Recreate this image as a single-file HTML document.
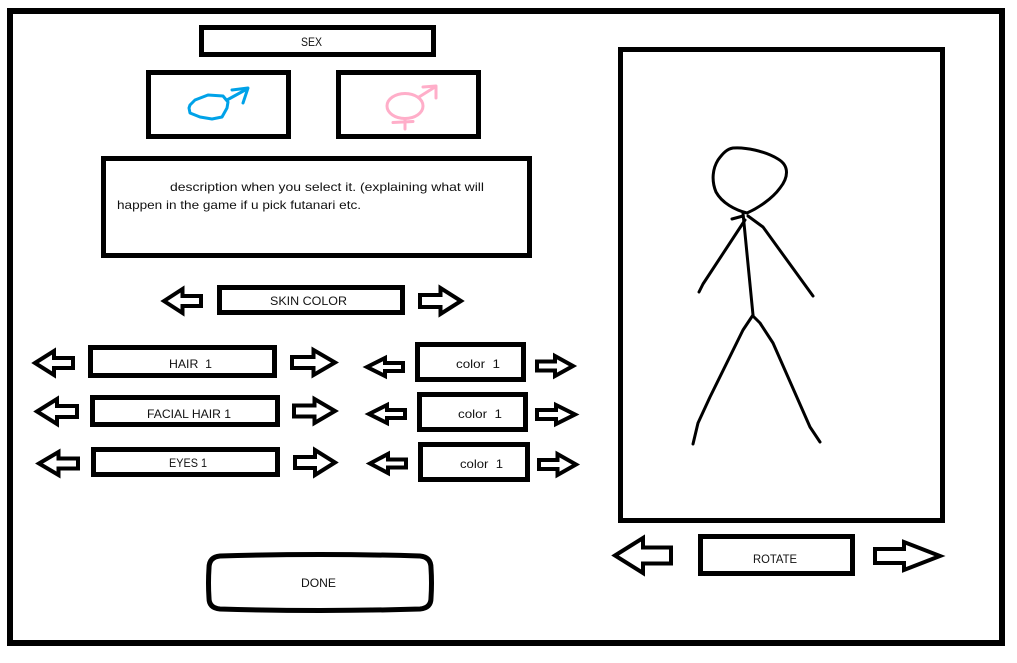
<!DOCTYPE html>
<html>
<head>
<meta charset="utf-8">
<style>
html,body{margin:0;padding:0;background:#fff;}
svg{display:block;}
text{font-family:"Liberation Sans",sans-serif;font-size:12px;fill:#111;}
</style>
</head>
<body>
<svg width="1017" height="663" viewBox="0 0 1017 663" xmlns="http://www.w3.org/2000/svg">
<rect x="0" y="0" width="1017" height="663" fill="#fff"/>
<!-- outer frame -->
<rect x="10" y="11" width="992" height="632" fill="none" stroke="#000" stroke-width="6"/>

<g fill="none" stroke="#000" stroke-width="5">
  <rect x="201.5" y="27.5" width="232" height="27"/>
  <rect x="148.5" y="72.5" width="140" height="64"/>
  <rect x="338.5" y="72.5" width="140" height="64"/>
  <rect x="103.5" y="158.5" width="426" height="97"/>
  <rect x="219.5" y="287.5" width="183" height="25"/>
  <rect x="90.5" y="347.5" width="184" height="28"/>
  <rect x="92.5" y="397.5" width="185" height="27"/>
  <rect x="93.5" y="449.5" width="184" height="25"/>
  <rect x="417.5" y="344.5" width="106" height="35"/>
  <rect x="419.5" y="394.5" width="106" height="35"/>
  <rect x="420.5" y="444.5" width="107" height="35"/>
  <rect x="620.5" y="49.5" width="322" height="471"/>
  <rect x="700.5" y="536.5" width="152" height="37"/>
  <path d="M220,556 Q320,553 420,556 Q431,557 431,568 Q432,583 431,598 Q431,608 420,609 Q320,612 220,609 Q209,608 209,598 Q208,583 209,568 Q209,557 220,556 Z"/>
</g>

<!-- arrows -->
<g fill="none" stroke="#000" stroke-width="4" stroke-linejoin="miter">
  <polygon points="164,301 182.5,289 182.5,296 201,296 201,306 182.5,306 182.5,313"/>
  <polygon points="420,295 440.5,295 440.5,288 461,301 440.5,314 440.5,307 420,307"/>

  <polygon points="35,363 54,351 54,358 73,358 73,368 54,368 54,375"/>
  <polygon points="292,357 313.5,357 313.5,350 335,362.5 313.5,375 313.5,368 292,368"/>
  <polygon points="367,367 385,358 385,363 403,363 403,371 385,371 385,376"/>
  <polygon points="537,361.5 555,361.5 555,356 573,366 555,376 555,370.5 537,370.5"/>

  <polygon points="37,411.5 57,399 57,406 77,406 77,417 57,417 57,424"/>
  <polygon points="294,405.5 314.5,405.5 314.5,399 335,411 314.5,423 314.5,416.5 294,416.5"/>
  <polygon points="369,414 387,405 387,410 405,410 405,418 387,418 387,423"/>
  <polygon points="537,410 556,410 556,405 575,414.5 556,424 556,419 537,419"/>

  <polygon points="39,463.5 58.5,452 58.5,458.5 78,458.5 78,468.5 58.5,468.5 58.5,475"/>
  <polygon points="295,457 315,457 315,450 335,462.5 315,475 315,468 295,468"/>
  <polygon points="370,463.5 388,454 388,459.5 406,459.5 406,467.5 388,467.5 388,473"/>
  <polygon points="539,460 557.5,460 557.5,454 576,464.5 557.5,475 557.5,469 539,469"/>

  <polygon points="615,555.5 643,538 643,547.5 671,547.5 671,563.5 643,563.5 643,573"/>
  <polygon points="875,549 904,549 904,542 940,556 904,570 904,563 875,563"/>
</g>

<!-- male symbol -->
<g fill="none" stroke="#00a2e8" stroke-width="3" stroke-linecap="round" stroke-linejoin="round">
  <path d="M190,105 L195,100 L208,95 L223,96 L228,102 L227,108 L222,117 L212,119 L200,117 L190,113 L189,108 Z"/>
  <path d="M227,100 L247,89"/>
  <path d="M232,90 L248,88 L243,103"/>
</g>
<!-- female/futa symbol -->
<g fill="none" stroke="#ffaec9" stroke-width="3" stroke-linecap="round" stroke-linejoin="round">
  <ellipse cx="405" cy="106" rx="18" ry="12.5"/>
  <path d="M419,97 L435,87"/>
  <path d="M423,87 L436,86 L436,98"/>
  <path d="M405,119 L405,129"/>
  <path d="M393,122.5 L413,121.5"/>
</g>

<!-- stick figure -->
<g fill="none" stroke="#000" stroke-width="3" stroke-linecap="round" stroke-linejoin="round">
  <path d="M733,148 C745,147 765,151 778,159 C790,166 788,178 780,188 C772,199 758,208 747,213 C735,210 722,203 716,192 C711,180 713,168 718,160 C723,153 727,149 733,148 Z"/>
  <path d="M743,213 L753,315"/>
  <path d="M732,219 L743,216"/>
  <path d="M745,220 L703,284 L699,292"/>
  <path d="M748,216 L763,227 L813,296"/>
  <path d="M753,315 L743,330 L710,397 L698,423 L693,444"/>
  <path d="M753,316 L760,323 L773,343 L810,427 L820,442"/>
</g>

<!-- labels -->
<text x="301" y="46" textLength="21" lengthAdjust="spacingAndGlyphs">SEX</text>
<text x="170" y="191" textLength="314" lengthAdjust="spacingAndGlyphs">description when you select it. (explaining what will</text>
<text x="117" y="209" textLength="244" lengthAdjust="spacingAndGlyphs">happen in the game if u pick futanari etc.</text>
<text x="270" y="305" textLength="77" lengthAdjust="spacingAndGlyphs">SKIN COLOR</text>
<text x="169" y="368" textLength="43" lengthAdjust="spacingAndGlyphs" xml:space="preserve">HAIR  1</text>
<text x="147" y="418" textLength="84" lengthAdjust="spacingAndGlyphs">FACIAL HAIR 1</text>
<text x="169" y="467" textLength="38" lengthAdjust="spacingAndGlyphs">EYES 1</text>
<text x="456" y="368" textLength="44" lengthAdjust="spacingAndGlyphs" xml:space="preserve">color  1</text>
<text x="458" y="418" textLength="44" lengthAdjust="spacingAndGlyphs" xml:space="preserve">color  1</text>
<text x="460" y="468" textLength="43" lengthAdjust="spacingAndGlyphs" xml:space="preserve">color  1</text>
<text x="301" y="587" textLength="35" lengthAdjust="spacingAndGlyphs">DONE</text>
<text x="753" y="563" textLength="44" lengthAdjust="spacingAndGlyphs">ROTATE</text>
</svg>
</body>
</html>
